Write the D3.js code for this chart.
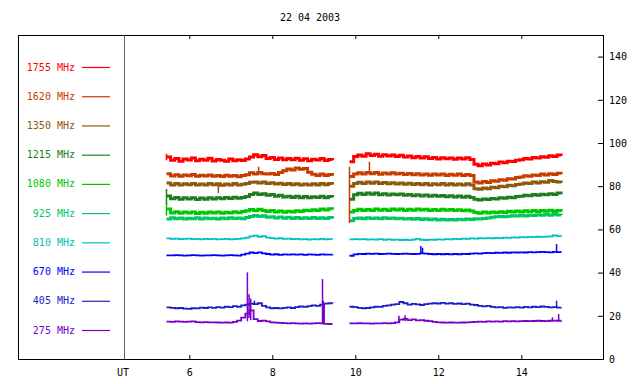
<!DOCTYPE html>
<html>
<head>
<meta charset="utf-8">
<script src="https://cdn.jsdelivr.net/npm/d3@7"></script>
<style>
    body { margin: 0; background: #fff; }
    text { font-family: 'DejaVu Sans Mono', monospace; font-size: 10px; }
</style>
</head>
<body>
<svg id="chart" width="640" height="384"></svg>
<script>
const TITLE = '22 04 2003';
const FREQS = ['1755 MHz', '1620 MHz', '1350 MHz', '1215 MHz', '1080 MHz', '925 MHz', '810 MHz', '670 MHz', '405 MHz', '275 MHz'];
const COLORS = ['#ff0000', '#c83c00', '#8c5a0a', '#1e7d1e', '#00c800', '#00c864', '#00c0c0', '#0000ff', '#1e1ec8', '#7800c8'];
const X_TICKS = [6, 8, 10, 12, 14];
const Y_TICKS = [0, 20, 40, 60, 80, 100, 120, 140];

// two recordings, sampled every 0.1 h (UT)
const SEG_START = [5.45, 9.86];
const SEG_STEP = 0.1;

const f1755a = [93.5, 92.0, 92.8, 91.6, 92.6, 92.1, 93.0, 91.8, 92.5, 92.0, 92.9,
    91.7, 92.4, 92.0, 91.5, 92.6, 91.8, 92.3, 91.9, 92.6, 93.5,
    94.6, 93.6, 94.2, 92.8, 93.3, 92.4, 93.0, 92.2, 92.8, 92.3,
    92.9, 92.0, 92.7, 91.8, 92.5, 92.1, 92.8, 91.9, 92.4, 92.0];
const f1755b = [91.3, 93.8, 94.5, 93.9, 95.0, 94.2, 94.8, 93.9, 94.6, 94.0, 94.4,
    93.7, 94.3, 93.5, 94.0, 93.2, 93.8, 93.0, 93.6, 92.8, 93.3,
    92.6, 93.2, 92.7, 93.1, 92.5, 93.0, 92.6, 93.2, 92.4, 90.2,
    89.5, 90.3, 89.8, 90.6, 90.4, 91.2, 90.9, 91.6, 91.4, 92.0,
    92.2, 92.8, 92.6, 93.3, 93.0, 93.6, 93.4, 94.1, 93.8, 94.5, 94.0];

const f1620a = [85.8, 84.7, 85.3, 84.6, 85.2, 84.8, 85.4, 84.6, 85.1, 84.7, 85.2,
    84.6, 85.0, 84.5, 85.1, 84.6, 84.9, 84.4, 85.0, 85.3, 86.2,
    85.7, 86.3, 85.8, 85.6, 85.9, 85.4, 86.3, 87.2, 88.0, 87.5,
    88.4, 87.8, 88.2, 86.5, 85.5, 85.0, 85.6, 84.9, 85.4, 84.8];
const f1620b = [84.5, 85.6, 86.2, 85.6, 86.4, 85.8, 86.3, 85.5, 86.1, 85.7, 86.2,
    85.6, 86.0, 85.4, 85.9, 85.3, 85.8, 85.2, 85.7, 85.1, 85.6,
    85.2, 85.6, 85.0, 85.5, 85.1, 85.6, 85.0, 85.4, 84.9, 82.0,
    81.5, 82.2, 81.7, 82.5, 82.3, 83.0, 82.8, 83.5, 83.3, 84.0,
    84.3, 84.8, 84.6, 85.2, 85.0, 85.6, 85.2, 85.8, 85.4, 86.0, 85.5];

const f1350a = [81.5, 80.6, 81.2, 80.5, 81.1, 80.7, 81.3, 80.6, 81.0, 80.5, 81.2,
    80.7, 81.1, 80.4, 81.0, 80.6, 81.2, 80.5, 80.9, 81.3, 81.8,
    82.0, 81.5, 81.9, 81.3, 81.6, 81.0, 81.4, 80.8, 81.2, 80.7,
    81.1, 80.6, 81.0, 80.5, 81.1, 80.6, 81.2, 80.7, 81.3, 80.8];
const f1350b = [80.0, 81.2, 81.8, 81.2, 82.0, 81.4, 81.9, 81.2, 81.7, 81.1, 81.6,
    81.0, 81.5, 80.9, 81.4, 80.8, 81.3, 80.7, 81.2, 80.6, 81.1,
    80.7, 81.2, 80.6, 81.1, 80.5, 81.0, 80.6, 81.1, 80.5, 78.8,
    78.6, 79.2, 78.8, 79.5, 79.3, 80.0, 79.7, 80.4, 80.2, 80.8,
    81.0, 81.5, 81.2, 81.9, 81.5, 82.1, 81.8, 82.6, 82.2, 81.9, 81.5];

const f1215a = [75.5, 74.2, 74.8, 74.0, 74.6, 74.1, 74.7, 73.9, 74.5, 74.0, 74.6,
    74.1, 74.7, 74.2, 74.8, 74.3, 74.9, 74.4, 74.8, 75.2, 76.2,
    76.8, 76.2, 76.5, 75.8, 76.1, 75.4, 75.8, 75.0, 75.4, 74.8,
    75.3, 74.7, 75.2, 74.6, 75.1, 74.8, 75.3, 74.7, 75.2, 74.9];
const f1215b = [74.0, 76.0, 76.7, 76.1, 76.9, 76.3, 76.8, 76.0, 76.5, 75.9, 76.4,
    76.0, 76.4, 75.8, 76.2, 75.6, 76.0, 75.5, 75.9, 75.3, 75.8,
    75.3, 75.7, 75.1, 75.6, 75.0, 75.5, 74.9, 75.4, 74.8, 74.0,
    73.6, 74.1, 73.8, 74.3, 74.1, 74.6, 74.4, 74.9, 74.7, 75.2,
    75.4, 75.8, 75.6, 76.1, 75.8, 76.3, 76.0, 76.5, 76.2, 76.8, 76.3];

const f1080a = [69.5, 67.6, 68.2, 67.5, 68.0, 67.6, 68.1, 67.4, 67.9, 67.5, 68.0,
    67.6, 68.1, 67.5, 67.9, 67.6, 68.2, 67.7, 68.3, 68.6, 69.2,
    68.6, 69.3, 68.7, 68.3, 68.8, 68.0, 68.5, 67.9, 68.4, 68.0,
    68.6, 68.3, 68.9, 68.6, 69.1, 68.8, 69.4, 69.0, 69.6, 69.2];
const f1080b = [68.0, 68.8, 69.3, 68.7, 69.2, 68.8, 69.4, 68.9, 69.3, 68.8, 69.5,
    69.0, 69.4, 68.8, 69.3, 68.9, 69.5, 69.0, 69.3, 68.8, 69.2,
    68.8, 69.3, 68.9, 69.2, 68.7, 69.1, 68.6, 69.0, 68.5, 67.8,
    67.5, 68.0, 67.6, 68.1, 67.7, 68.2, 67.8, 68.4, 68.0, 68.5,
    68.1, 68.6, 68.2, 68.7, 68.3, 68.8, 68.4, 68.9, 68.3, 68.7, 68.2];

const f925a = [64.8, 65.4, 64.9, 65.3, 64.8, 65.2, 64.9, 65.4, 64.8, 65.3, 64.9,
    65.2, 64.8, 65.3, 64.9, 65.4, 65.0, 65.3, 64.9, 65.5, 66.0,
    66.4, 66.0, 66.3, 65.6, 65.9, 65.3, 65.7, 65.2, 65.6, 65.1,
    65.5, 65.0, 65.4, 65.0, 65.5, 65.1, 65.4, 65.0, 65.5, 65.1];
const f925b = [64.0, 65.0, 65.3, 64.9, 65.4, 65.0, 65.3, 64.9, 65.4, 65.0, 65.3,
    64.9, 65.2, 64.8, 65.1, 64.7, 65.0, 64.6, 64.9, 64.5, 64.8,
    64.4, 64.7, 64.3, 64.6, 64.4, 64.7, 64.5, 64.8, 64.6, 64.9,
    64.8, 65.1, 65.3, 65.6, 65.8, 66.0, 65.8, 66.1, 66.3, 66.2,
    66.4, 66.2, 66.6, 66.4, 66.8, 66.5, 66.9, 66.6, 67.0, 66.7, 66.5];

const f810a = [55.8, 55.6, 55.7, 55.5, 55.6, 55.7, 55.5, 55.6, 55.4, 55.6, 55.5,
    55.6, 55.4, 55.5, 55.6, 55.4, 55.5, 55.6, 55.8, 56.2, 56.8,
    57.1, 56.6, 56.9, 56.2, 56.0, 55.7, 55.9, 55.6, 55.7, 55.5,
    55.6, 55.4, 55.5, 55.3, 55.5, 55.4, 55.6, 55.4, 55.5, 55.4];
const f810b = [55.4, 55.5, 55.4, 55.5, 55.3, 55.4, 55.3, 55.5, 55.2, 55.4, 55.2,
    55.3, 55.1, 55.2, 55.0, 55.3, 55.6, 55.2, 55.1, 55.3, 55.2,
    55.4, 55.3, 55.5, 55.4, 55.6, 55.5, 55.7, 55.6, 55.8, 55.7,
    55.9, 55.8, 56.0, 55.9, 56.1, 56.0, 56.2, 56.1, 56.3, 56.2,
    56.4, 56.3, 56.5, 56.4, 56.6, 56.5, 56.7, 56.8, 57.2, 56.9, 56.7];

const f670a = [48.0, 48.0, 48.1, 48.0, 47.9, 48.0, 48.1, 48.0, 47.9, 48.0, 48.0,
    48.1, 48.0, 47.9, 48.0, 48.1, 48.0, 47.9, 48.3, 48.8, 49.3,
    49.0, 49.4, 48.9, 48.6, 48.3, 48.5, 48.2, 48.4, 48.3, 48.4,
    48.3, 48.4, 48.2, 48.4, 48.3, 48.2, 48.4, 48.3, 48.3, 48.4];
const f670b = [47.8, 48.4, 48.7, 48.6, 48.8, 48.7, 48.8, 48.6, 48.7, 48.8, 48.7,
    48.6, 48.7, 48.8, 48.7, 48.6, 48.7, 48.9, 48.8, 48.6, 48.5,
    48.6, 48.5, 48.6, 48.4, 48.6, 48.5, 48.7, 48.6, 48.8, 48.9,
    48.8, 49.0, 49.1, 49.0, 49.2, 49.1, 49.3, 49.2, 49.4, 49.3,
    49.4, 49.3, 49.5, 49.4, 49.5, 49.6, 49.5, 49.4, 49.6, 49.5, 49.4];

const f405a = [23.9, 23.7, 23.5, 23.6, 23.3, 23.2, 23.5, 23.4, 23.8, 23.6, 23.9,
    23.7, 24.0, 23.8, 24.2, 24.0, 24.5, 24.2, 24.8, 25.2, 25.6,
    25.4, 25.8, 24.6, 23.9, 23.5, 23.6, 23.4, 23.7, 23.9, 23.6,
    24.0, 24.3, 24.1, 24.5, 24.8, 24.6, 25.2, 25.6, 25.8, 25.7];
const f405b = [24.2, 24.0, 23.7, 23.5, 23.6, 23.9, 24.2, 24.1, 24.6, 24.8, 25.2,
    25.4, 26.4, 25.8, 25.2, 25.5, 25.3, 25.0, 25.4, 25.6, 25.8,
    25.7, 26.0, 25.6, 25.8, 25.5, 25.7, 25.4, 25.6, 25.2, 25.0,
    24.6, 24.4, 24.6, 24.1, 23.9, 24.0, 23.7, 23.9, 23.8, 24.0,
    23.8, 24.1, 23.9, 24.2, 24.0, 24.3, 24.1, 23.9, 24.0, 23.8, 23.9];

const f275a = [17.3, 17.2, 17.4, 17.3, 17.2, 17.3, 17.4, 17.1, 17.0, 17.1, 17.0,
    17.0, 16.9, 16.8, 16.9, 16.8, 17.2, 17.8, 19.2, 21.0, 22.5,
    18.5, 17.6, 17.8, 17.4, 17.0, 16.8, 16.7, 16.6, 16.5, 16.6,
    16.5, 16.4, 16.5, 16.4, 16.5, 16.6, 16.5, 16.3, 16.2, 16.2];
const f275b = [16.5, 16.5, 16.6, 16.5, 16.5, 16.4, 16.5, 16.5, 16.6, 16.5, 16.6,
    17.0, 18.2, 18.6, 18.0, 18.3, 17.9, 18.0, 17.7, 17.5, 17.2,
    17.0, 16.9, 16.8, 16.9, 16.8, 16.8, 16.9, 17.0, 17.1, 17.2,
    17.3, 17.2, 17.4, 17.3, 17.4, 17.3, 17.5, 17.4, 17.5, 17.4,
    17.5, 17.6, 17.5, 17.6, 17.7, 17.6, 17.5, 17.7, 17.8, 17.7, 17.8];

// short bursts / glitches: [freq index, UT hour, from, to]
const SPIKES = [
    [0, 5.45, 92.0, 95.0],
    [1, 7.67, 85.5, 89.0],
    [1, 9.86, 63.0, 89.0],
    [1, 10.34, 86.0, 91.3],
    [2, 6.70, 81.0, 76.8],
    [3, 5.45, 71.3, 78.7],
    [4, 5.45, 66.3, 72.3],
    [7, 11.58, 48.7, 52.3],
    [7, 11.62, 48.7, 51.5],
    [7, 14.85, 49.4, 53.2],
    [8, 7.57, 25.0, 27.0],
    [8, 14.85, 24.2, 27.0],
    [9, 7.40, 17.5, 40.1],
    [9, 7.44, 19.0, 30.0],
    [9, 7.48, 18.0, 28.0],
    [9, 9.21, 16.5, 37.0],
    [9, 9.23, 16.5, 27.0],
    [9, 9.25, 16.5, 25.0],
    [9, 11.05, 17.0, 20.0],
    [9, 11.20, 17.5, 20.3],
    [9, 14.75, 17.6, 19.3],
    [9, 14.90, 17.6, 20.8]
];

const SERIES = [
    [f1755a, f1755b], [f1620a, f1620b], [f1350a, f1350b], [f1215a, f1215b], [f1080a, f1080b],
    [f925a, f925b], [f810a, f810b], [f670a, f670b], [f405a, f405b], [f275a, f275b]
];

const margin = { left: 18, right: 603, top: 35, bottom: 359, ut: 124 };

const svg = d3.select('#chart');

const x = d3.scaleLinear().domain([6, 14]).range([189.3, 521.3]);
const y = d3.scaleLinear().domain([0, 150]).range([margin.bottom, margin.top]);
const legendY = d3.scalePoint().domain(FREQS).range([67, 330]);
const color = d3.scaleOrdinal().domain(FREQS).range(COLORS);

// title
svg.append('text')
    .attr('x', 310)
    .attr('y', 21)
    .attr('text-anchor', 'middle')
    .text(TITLE);

// axes
svg.append('g')
    .attr('transform', `translate(0,${margin.bottom})`)
    .call(d3.axisBottom(x).tickValues(X_TICKS).tickSize(-4).tickPadding(10).tickFormat(d3.format('d')))
    .call(g => g.select('.domain').remove());

svg.append('g')
    .attr('transform', `translate(0,${margin.top})`)
    .call(d3.axisTop(x).tickValues(X_TICKS).tickSize(-4).tickFormat(''))
    .call(g => g.select('.domain').remove());

svg.append('g')
    .attr('transform', `translate(${margin.right},0)`)
    .call(d3.axisRight(y).tickValues(Y_TICKS).tickSize(-5).tickPadding(6))
    .call(g => g.select('.domain').remove());

svg.selectAll('.tick text')
    .style('font-family', "'DejaVu Sans Mono', monospace")
    .style('font-size', '10px')
    .attr('fill', '#000');

// frame
svg.append('rect')
    .attr('x', margin.left + 0.5)
    .attr('y', margin.top + 0.5)
    .attr('width', margin.right - margin.left)
    .attr('height', margin.bottom - margin.top)
    .attr('fill', 'none')
    .attr('stroke', '#000');

svg.append('line')
    .attr('x1', margin.ut + 0.5).attr('x2', margin.ut + 0.5)
    .attr('y1', margin.top).attr('y2', margin.bottom)
    .attr('stroke', '#666');

svg.append('text')
    .attr('x', 123)
    .attr('y', 376)
    .attr('text-anchor', 'middle')
    .text('UT');

// legend
const legend = svg.append('g')
    .selectAll('g')
    .data(FREQS)
    .join('g')
    .attr('transform', d => `translate(0,${legendY(d)})`);

legend.append('text')
    .attr('x', 75)
    .attr('dy', '0.35em')
    .attr('text-anchor', 'end')
    .attr('fill', d => color(d))
    .text(d => d);

legend.append('line')
    .attr('x1', 82).attr('x2', 110)
    .attr('y1', 0.5).attr('y2', 0.5)
    .attr('stroke', d => color(d))
    .attr('stroke-width', 1.2);

// data lines (digitised receiver output, so steps)
const line = d3.line()
    .x(d => x(d[0]))
    .y(d => y(d[1]))
    .curve(d3.curveStepAfter);

const plot = svg.append('g');

SERIES.forEach((segs, k) => {
    segs.forEach((vals, s) => {
        const pts = vals.map((v, i) => [SEG_START[s] + i * SEG_STEP, v]);
        plot.append('path')
            .datum(pts)
            .attr('d', line)
            .attr('fill', 'none')
            .attr('stroke', COLORS[k])
            .attr('stroke-width', k < 6 ? 3 : 1.8);
    });
});

plot.selectAll('line.spike')
    .data(SPIKES)
    .join('line')
    .attr('class', 'spike')
    .attr('x1', d => x(d[1])).attr('x2', d => x(d[1]))
    .attr('y1', d => y(d[2])).attr('y2', d => y(d[3]))
    .attr('stroke', d => COLORS[d[0]])
    .attr('stroke-width', 1.5);
</script>
</body>
</html>
